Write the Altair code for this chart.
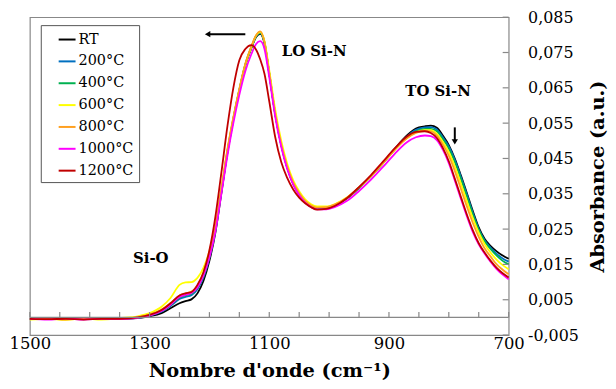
import altair as alt
import pandas as pd

# ---------------- data ----------------
wavenumber = [1500, 1470, 1440, 1410, 1380, 1350, 1320, 1300, 1280, 1265,
              1250, 1240, 1230, 1220, 1210, 1200, 1190, 1180, 1170, 1160,
              1150, 1140, 1130, 1122, 1115, 1108, 1100, 1090, 1080, 1070,
              1060, 1050, 1040, 1030, 1020, 1005, 990, 970, 950, 930,
              910, 890, 870, 855, 840, 830, 820, 810, 800, 790,
              780, 770, 760, 750, 740, 730, 720, 710, 700]

abs_rt = [-0.0004, -0.0005, -0.0004, -0.0005, -0.0004, -0.0004, -0.0002, 0.0003, 0.0012, 0.0026,
          0.0040, 0.0046, 0.0051, 0.0068, 0.0103, 0.0160, 0.0240, 0.0352, 0.0465, 0.0560,
          0.0642, 0.0714, 0.0762, 0.0794, 0.0803, 0.0776, 0.0690, 0.0575, 0.0488, 0.0424,
          0.0378, 0.0348, 0.0326, 0.0313, 0.0307, 0.0308, 0.0317, 0.0337, 0.0367, 0.0400,
          0.0438, 0.0478, 0.0515, 0.0535, 0.0541, 0.0543, 0.0537, 0.0515, 0.0488, 0.0450,
          0.0403, 0.0353, 0.0302, 0.0255, 0.0222, 0.0202, 0.0187, 0.0175, 0.0166]

abs_200 = [-0.0005, -0.0004, -0.0005, -0.0004, -0.0005, -0.0003, -0.0001, 0.0005, 0.0016, 0.0032,
           0.0052, 0.0058, 0.0063, 0.0080, 0.0113, 0.0168, 0.0245, 0.0356, 0.0468, 0.0562,
           0.0643, 0.0715, 0.0764, 0.0796, 0.0805, 0.0778, 0.0691, 0.0576, 0.0489, 0.0425,
           0.0380, 0.0350, 0.0328, 0.0315, 0.0309, 0.0310, 0.0318, 0.0338, 0.0367, 0.0400,
           0.0437, 0.0477, 0.0512, 0.0531, 0.0538, 0.0539, 0.0532, 0.0510, 0.0484, 0.0446,
           0.0399, 0.0349, 0.0297, 0.0250, 0.0218, 0.0197, 0.0180, 0.0167, 0.0158]

abs_400 = [-0.0004, -0.0005, -0.0005, -0.0003, -0.0005, -0.0004, -0.0001, 0.0006, 0.0018, 0.0035,
           0.0056, 0.0062, 0.0067, 0.0084, 0.0117, 0.0172, 0.0248, 0.0358, 0.0470, 0.0563,
           0.0644, 0.0716, 0.0765, 0.0797, 0.0806, 0.0779, 0.0692, 0.0577, 0.0490, 0.0426,
           0.0381, 0.0351, 0.0329, 0.0316, 0.0310, 0.0311, 0.0319, 0.0338, 0.0367, 0.0400,
           0.0437, 0.0476, 0.0510, 0.0527, 0.0534, 0.0534, 0.0527, 0.0505, 0.0478, 0.0440,
           0.0393, 0.0343, 0.0292, 0.0248, 0.0215, 0.0193, 0.0175, 0.0160, 0.0150]

abs_600 = [-0.0006, -0.0004, -0.0007, -0.0003, -0.0006, -0.0002, 0.0003, 0.0012, 0.0030, 0.0055,
           0.0092, 0.0099, 0.0100, 0.0112, 0.0140, 0.0188, 0.0258, 0.0365, 0.0473, 0.0565,
           0.0645, 0.0716, 0.0765, 0.0798, 0.0808, 0.0782, 0.0700, 0.0588, 0.0500, 0.0435,
           0.0388, 0.0357, 0.0334, 0.0320, 0.0314, 0.0314, 0.0321, 0.0340, 0.0368, 0.0400,
           0.0437, 0.0475, 0.0508, 0.0524, 0.0530, 0.0530, 0.0520, 0.0497, 0.0468, 0.0428,
           0.0380, 0.0330, 0.0282, 0.0240, 0.0207, 0.0183, 0.0163, 0.0148, 0.0136]

abs_800 = [-0.0005, -0.0003, -0.0006, -0.0004, -0.0005, -0.0003, 0.0000, 0.0008, 0.0022, 0.0040,
           0.0062, 0.0068, 0.0073, 0.0090, 0.0125, 0.0180, 0.0255, 0.0365, 0.0475, 0.0567,
           0.0647, 0.0718, 0.0767, 0.0799, 0.0810, 0.0780, 0.0692, 0.0577, 0.0490, 0.0427,
           0.0382, 0.0352, 0.0330, 0.0317, 0.0311, 0.0312, 0.0320, 0.0339, 0.0368, 0.0400,
           0.0437, 0.0475, 0.0507, 0.0522, 0.0528, 0.0527, 0.0515, 0.0490, 0.0458, 0.0415,
           0.0365, 0.0315, 0.0268, 0.0228, 0.0195, 0.0172, 0.0150, 0.0135, 0.0122]

abs_1000 = [-0.0004, -0.0006, -0.0003, -0.0006, -0.0004, -0.0005, -0.0001, 0.0005, 0.0018, 0.0036,
            0.0058, 0.0064, 0.0069, 0.0085, 0.0118, 0.0170, 0.0243, 0.0350, 0.0457, 0.0550,
            0.0630, 0.0697, 0.0745, 0.0774, 0.0782, 0.0760, 0.0680, 0.0568, 0.0483, 0.0420,
            0.0376, 0.0346, 0.0325, 0.0312, 0.0306, 0.0306, 0.0313, 0.0330, 0.0358, 0.0390,
            0.0426, 0.0464, 0.0496, 0.0510, 0.0515, 0.0513, 0.0502, 0.0475, 0.0437, 0.0388,
            0.0337, 0.0287, 0.0242, 0.0207, 0.0180, 0.0157, 0.0137, 0.0121, 0.0108]

abs_1200 = [-0.0004, -0.0005, -0.0004, -0.0006, -0.0004, -0.0004, 0.0000, 0.0007, 0.0021, 0.0040,
            0.0062, 0.0068, 0.0072, 0.0092, 0.0128, 0.0190, 0.0285, 0.0410, 0.0540, 0.0650,
            0.0728, 0.0760, 0.0771, 0.0758, 0.0730, 0.0690, 0.0612, 0.0510, 0.0440, 0.0395,
            0.0362, 0.0339, 0.0323, 0.0312, 0.0305, 0.0307, 0.0316, 0.0338, 0.0369, 0.0403,
            0.0441, 0.0479, 0.0512, 0.0525, 0.0527, 0.0522, 0.0508, 0.0480, 0.0442, 0.0393,
            0.0342, 0.0292, 0.0247, 0.0210, 0.0183, 0.0160, 0.0140, 0.0125, 0.0113]

series_names = ["RT", "200°C", "400°C", "600°C", "800°C", "1000°C", "1200°C"]
series_values = [abs_rt, abs_200, abs_400, abs_600, abs_800, abs_1000, abs_1200]
series_colors = ["#000000", "#0070C0", "#00B050", "#FFFF00", "#FFA020", "#FF00FF", "#C00000"]

x_tick_labels = [1500, 1300, 1100, 900, 700]
x_minor_ticks = [1500, 1450, 1400, 1350, 1300, 1250, 1200, 1150, 1100, 1050,
                 1000, 950, 900, 850, 800, 750, 700]
y_tick_labels = [-0.005, 0.005, 0.015, 0.025, 0.035, 0.045, 0.055, 0.065, 0.075, 0.085]

ann_text = ["LO Si-N", "TO Si-N", "Si-O"]
ann_x = [1025, 818, 1298]
ann_y = [0.0754, 0.0642, 0.0169]

arrow_x1 = [1140, 790]
arrow_x2 = [1200, 790]
arrow_y1 = [0.0802, 0.0538]
arrow_y2 = [0.0802, 0.0500]
head_x = [1203, 790]
head_y = [0.0802, 0.0497]
head_shape = ["triangle-left", "triangle-down"]

# ---------------- tables ----------------
rows = []
for name, vals in zip(series_names, series_values):
    for wn, a in zip(wavenumber, vals):
        rows.append({"wn": wn, "A": a, "series": name})
df = pd.DataFrame(rows)

FONT = "DejaVu Serif"
xscale = alt.Scale(domain=[700, 1500], reverse=True, nice=False, zero=False)
yscale = alt.Scale(domain=[-0.005, 0.085], nice=False, zero=False)

x_axis = alt.Axis(values=x_tick_labels, format="d", ticks=False, domain=False, grid=False,
                  labelFlush=False, labelOverlap=False, labelFont=FONT,
                  labelFontSize=16.5, labelColor="black", labelPadding=1,
                  title="Nombre d'onde (cm⁻¹)", titleFont=FONT, titleFontSize=19.5,
                  titleFontWeight="bold", titleColor="black", titlePadding=9)
y_axis = alt.Axis(orient="right", values=y_tick_labels, ticks=False, domain=False,
                  grid=False, labelFont=FONT, labelFontSize=16, labelColor="black",
                  labelPadding=19, labelFlush=False, labelOverlap=False,
                  labelExpr="replace(replace(format(datum.value, '.3f'), '.', ','), '\u2212', '-')",
                  title="Absorbance (a.u.)", titleFont=FONT, titleFontSize=19.5,
                  titleFontWeight="bold", titleColor="black", titleAngle=270,
                  titlePadding=29)

lines = alt.Chart(df).mark_line(strokeWidth=1.8, interpolate="monotone").encode(
    x=alt.X("wn:Q", scale=xscale, axis=x_axis),
    y=alt.Y("A:Q", scale=yscale, axis=y_axis),
    color=alt.Color("series:N",
                    scale=alt.Scale(domain=series_names, range=series_colors),
                    legend=alt.Legend(orient="none", legendX=11, legendY=8, title=None,
                                      symbolType="stroke", symbolSize=289,
                                      symbolStrokeWidth=2, labelFont=FONT,
                                      labelFontSize=14.5, labelColor="black",
                                      padding=5, symbolOffset=12, rowPadding=6,
                                      labelOffset=2, strokeColor="#555555",
                                      fillColor="white")),
)

zero_df = pd.DataFrame({"wn": [1500], "A": [0.0]})
zero_line = alt.Chart(zero_df).mark_rule(color="#888888", strokeWidth=1.2).encode(
    y=alt.Y("A:Q", scale=yscale, axis=y_axis))

xt_df = pd.DataFrame({"wn": x_minor_ticks, "A": [0.0] * len(x_minor_ticks),
                      "A2": [0.0015] * len(x_minor_ticks)})
x_ticks = alt.Chart(xt_df).mark_rule(color="#888888", strokeWidth=1.2).encode(
    x=alt.X("wn:Q", scale=xscale, axis=x_axis),
    y=alt.Y("A:Q", scale=yscale, axis=y_axis),
    y2="A2:Q")

yt_df = pd.DataFrame({"A": y_tick_labels, "wn": [700] * len(y_tick_labels),
                      "wn2": [710] * len(y_tick_labels)})
y_ticks = alt.Chart(yt_df).mark_rule(color="#888888", strokeWidth=1.2).encode(
    y=alt.Y("A:Q", scale=yscale, axis=y_axis),
    x=alt.X("wn:Q", scale=xscale, axis=x_axis),
    x2="wn2:Q")

ann_df = pd.DataFrame({"wn": ann_x, "A": ann_y, "t": ann_text})
ann = alt.Chart(ann_df).mark_text(font=FONT, fontSize=15, fontWeight="bold",
                                  color="black", align="center", baseline="middle").encode(
    x=alt.X("wn:Q", scale=xscale, axis=x_axis),
    y=alt.Y("A:Q", scale=yscale, axis=y_axis),
    text="t:N")

arr_df = pd.DataFrame({"wn": arrow_x1, "wn2": arrow_x2, "A": arrow_y1, "A2": arrow_y2})
arrows = alt.Chart(arr_df).mark_rule(color="black", strokeWidth=2).encode(
    x=alt.X("wn:Q", scale=xscale, axis=x_axis), x2="wn2:Q",
    y=alt.Y("A:Q", scale=yscale, axis=y_axis), y2="A2:Q")

head_df = pd.DataFrame({"wn": head_x, "A": head_y, "s": head_shape})
heads = alt.Chart(head_df).mark_point(filled=True, color="black", size=40, opacity=1).encode(
    x=alt.X("wn:Q", scale=xscale, axis=x_axis),
    y=alt.Y("A:Q", scale=yscale, axis=y_axis),
    shape=alt.Shape("s:N", scale=alt.Scale(domain=head_shape, range=head_shape), legend=None))

chart = alt.layer(lines, zero_line, x_ticks, y_ticks, ann, arrows, heads).properties(
    width=482, height=320,
    autosize=alt.AutoSizeParams(type="none"),
    padding={"left": 22, "top": 8, "right": 100, "bottom": 45},
    background="white",
).configure_view(stroke="#888888", strokeWidth=1.2)

chart.save("out.html", embed_options={"renderer": "svg", "actions": False})
